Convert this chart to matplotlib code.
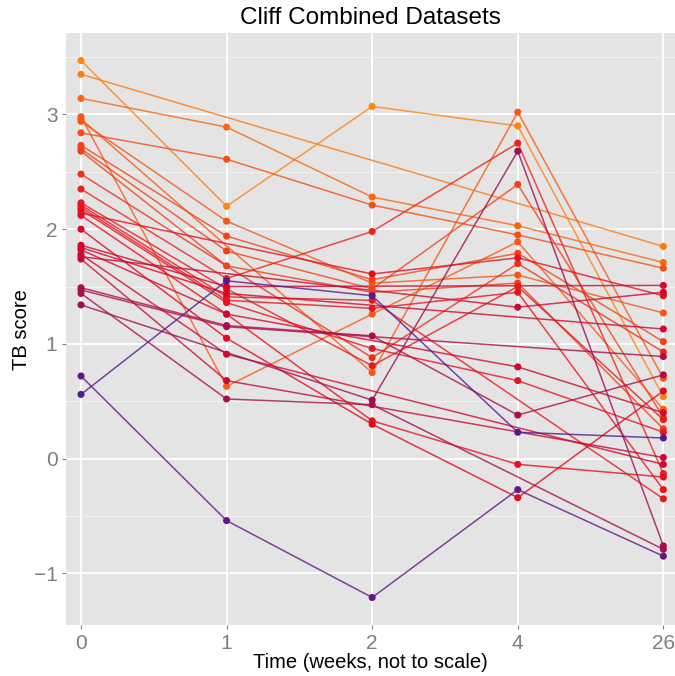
import numpy as np
import matplotlib
matplotlib.use("Agg")
import matplotlib.pyplot as plt
from matplotlib.colors import LinearSegmentedColormap, Normalize
from matplotlib.ticker import MultipleLocator, FixedLocator

nan = np.nan

# Time points (displayed as evenly spaced categories)
time_labels = ["0", "1", "2", "4", "26"]

# TB score per subject at each time point (nan = not measured)
week0 = [3.47, 3.35, 3.14, 2.98, 2.96, 2.94, 2.84, 2.73, 2.70, 2.68, 2.48,
         2.35, 2.23, 2.21, 2.19, 2.17, 2.14, 2.12, 2.00, 1.86, 1.84, 1.82,
         1.78, 1.76, 1.74, 1.49, 1.47, 1.44, 1.34, 0.72, 0.56]
week1 = [2.20, nan, 2.89, 0.63, nan, 2.07, 2.61, 1.94, 1.81, 1.68, nan,
         1.57, 1.48, 1.41, 1.38, 1.36, nan, 1.26, 1.05, 1.50, 1.44, 1.26,
         0.91, nan, 0.68, 1.16, 1.15, 0.52, nan, -0.54, 1.55]
week2 = [3.07, nan, 2.28, 1.26, 0.75, 1.53, 2.21, 1.56, 1.48, 1.45, 0.88,
         1.98, 0.81, 1.38, 1.31, 0.96, 1.61, 0.33, 0.30, nan, nan, nan,
         nan, nan, nan, 1.07, nan, 0.47, 0.51, -1.21, 1.42]
week4 = [2.90, nan, 2.03, 1.89, 3.02, 1.60, 1.95, 1.79, 2.39, 1.53, 1.70,
         2.75, 1.50, nan, 1.45, 0.68, 1.75, -0.05, -0.34, nan, nan, 0.80,
         nan, 1.32, nan, 0.38, nan, nan, 2.68, -0.27, 0.23]
week26 = [0.54, 1.85, 1.71, 0.43, 0.70, 1.27, 1.66, 1.02, 0.36, 0.26, 0.93,
          -0.13, 0.34, -0.35, -0.27, 0.23, 1.42, -0.16, 0.59, 1.51, 1.13, 0.40,
          -0.05, 1.45, 0.01, 0.73, 0.89, -0.79, -0.76, -0.85, 0.18]

scores = np.array([week0, week1, week2, week4, week26], dtype=float).T

# Colour each subject by its baseline score
cmap = LinearSegmentedColormap.from_list(
    "baseline", ["#521a8e", "#e4061e", "#ff8410"])
norm = Normalize(vmin=min(week0), vmax=max(week0))

W, H = 675, 676
fig = plt.figure(figsize=(W / 100, H / 100), dpi=100)
ax = fig.add_axes([66 / W, 1 - 625 / H, (W - 66) / W, (625 - 33) / H])

ax.set_facecolor("#e4e4e4")
for s in ax.spines.values():
    s.set_visible(False)

xpos = np.arange(len(time_labels))
ax.set_xlim(-0.103, 4.08)
ax.set_ylim(-1.45, 3.71)

ax.yaxis.set_major_locator(MultipleLocator(1))
ax.yaxis.set_minor_locator(FixedLocator([-0.5, 0.5, 1.5, 2.5, 3.5]))
ax.set_xticks(xpos)
ax.set_xticklabels(time_labels)
ax.set_yticks([-1, 0, 1, 2, 3])
ax.set_yticklabels(["\u22121", "0", "1", "2", "3"])

ax.grid(which="major", color="white", linewidth=1.3)
ax.grid(which="minor", axis="y", color="#f3f3f3", linewidth=0.7)
ax.set_axisbelow(True)

ax.tick_params(axis="both", which="major", length=3.2, width=0.8,
               color="#7f7f7f", labelcolor="#7f7f7f", labelsize=15, pad=3)
ax.tick_params(axis="both", which="minor", length=0)
for lab in ax.get_xticklabels() + ax.get_yticklabels():
    lab.set_family(["Liberation Sans", "DejaVu Sans"])

# Subject trajectories, then their observed points
for row in scores:
    c = cmap(norm(row[0]))
    ok = ~np.isnan(row)
    ax.plot(xpos[ok], row[ok], color=c, linewidth=1.1, alpha=0.8,
            solid_capstyle="round", zorder=2)
for row in scores:
    c = cmap(norm(row[0]))
    ok = ~np.isnan(row)
    ax.scatter(xpos[ok], row[ok], s=26, color=c, edgecolors="none",
               zorder=3)

fam = ["Liberation Sans", "DejaVu Sans"]
fig.text((66 + W) / 2 / W, 1 - 18 / H, "Cliff Combined Datasets",
         ha="center", va="center", fontsize=17.5, family=fam)
fig.text((66 + W) / 2 / W, 1 - 662 / H, "Time (weeks, not to scale)",
         ha="center", va="center", fontsize=14.5, family=fam)
fig.text(22 / W, 1 - 330 / H, "TB score", rotation=90,
         ha="center", va="center", fontsize=14.5, family=fam)

fig.savefig("out.png", dpi=100)
